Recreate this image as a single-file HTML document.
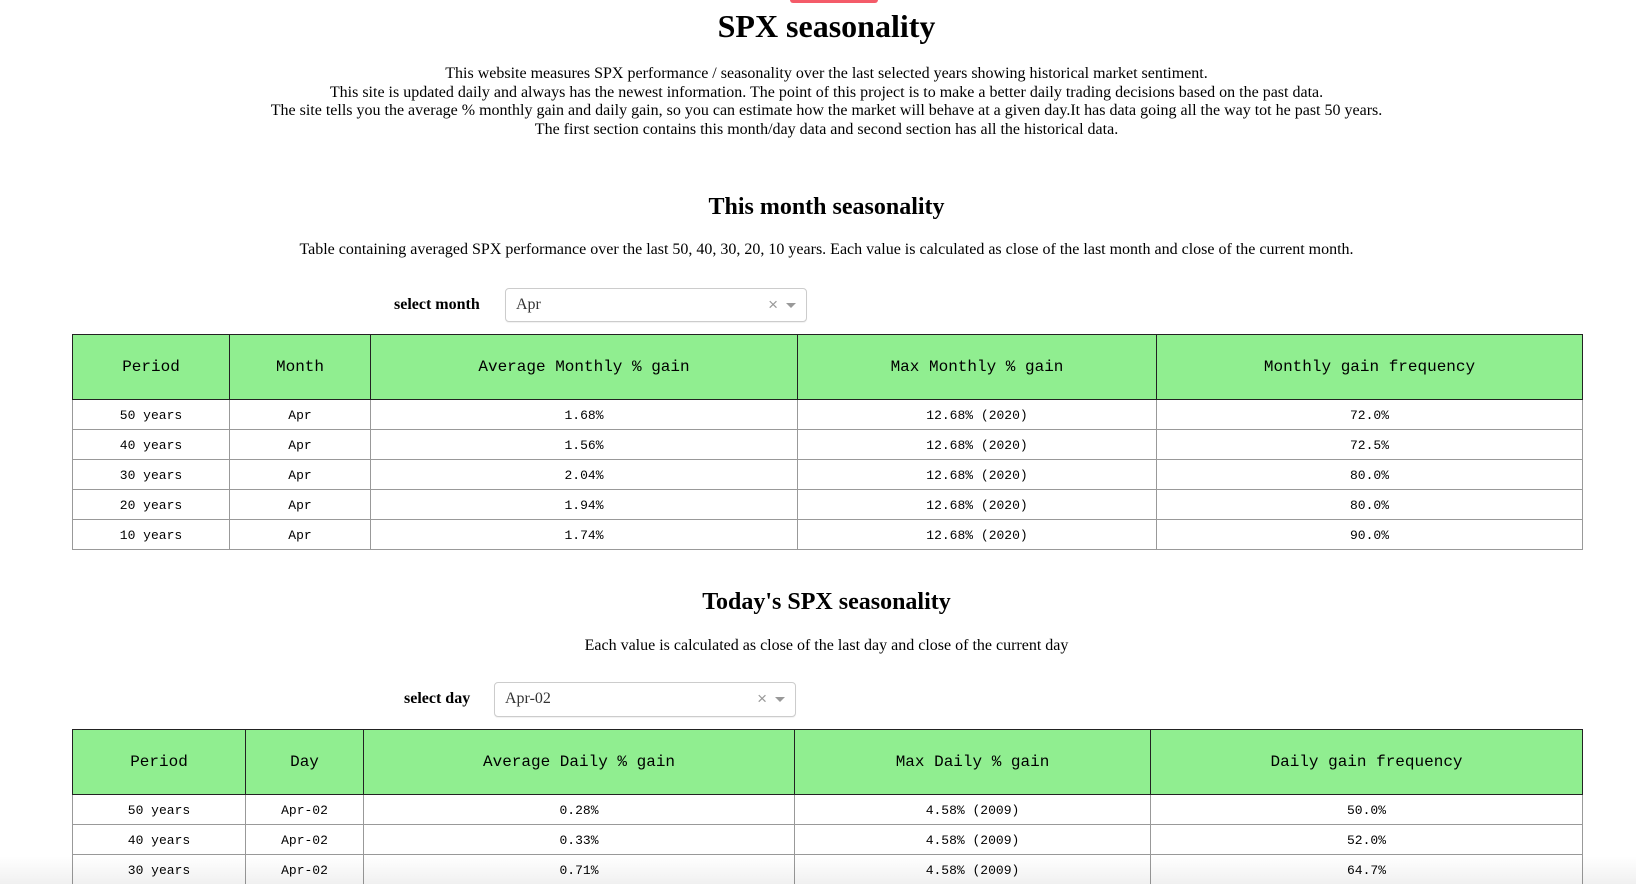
<!DOCTYPE html>
<html><head><meta charset="utf-8">
<style>
html,body{margin:0;padding:0;background:#fff;width:1636px;height:884px;overflow:hidden;}
body{font-family:"Liberation Serif",serif;color:#000;position:relative;}
.abs{position:absolute;}
.c{left:0;width:1653px;text-align:center;}
h1{margin:0;font-size:32px;font-weight:bold;}
h2{margin:0;font-size:24px;font-weight:bold;}
.p{font-size:16px;line-height:18.5px;}
.lbl{font-weight:bold;font-size:16px;}
.sel{border:1px solid #ccc;border-radius:4px;background:#fff;box-sizing:border-box;font-size:16px;color:#333;box-shadow:0 1px 1px rgba(0,0,0,.06);}
.sel .v{position:absolute;left:10px;top:7px;}
.sel .x{position:absolute;right:28px;top:6px;color:#999;font-family:"Liberation Sans",sans-serif;font-size:17px;}
.sel .ar{position:absolute;right:10px;top:14px;width:0;height:0;border-left:5px solid transparent;border-right:5px solid transparent;border-top:5px solid #999;}
table{border-collapse:collapse;table-layout:fixed;font-family:"Liberation Mono",monospace;}
th{background:#90ee90;border:1px solid #222;font-weight:normal;font-size:16px;height:65px;padding:0;box-sizing:border-box;}
td{border:1px solid #999;font-size:13px;height:30px;text-align:center;padding:2px 0 0 0;box-sizing:border-box;}
</style></head><body>
<div class="abs" style="left:790px;top:0;width:88px;height:3px;background:#f45b69;border-radius:0 0 4px 4px;"></div>
<div class="abs c" style="top:8px;"><h1>SPX seasonality</h1></div>
<div class="abs c p" style="top:65px;">This website measures SPX performance / seasonality over the last selected years showing historical market sentiment.<br>This site is updated daily and always has the newest information. The point of this project is to make a better daily trading decisions based on the past data.<br>The site tells you the average % monthly gain and daily gain, so you can estimate how the market will behave at a given day.It has data going all the way tot he past 50 years.<br>The first section contains this month/day data and second section has all the historical data.</div>
<div class="abs c" style="top:194px;"><h2>This month seasonality</h2></div>
<div class="abs c p" style="top:241px;">Table containing averaged SPX performance over the last 50, 40, 30, 20, 10 years. Each value is calculated as close of the last month and close of the current month.</div>
<div class="abs lbl" style="left:394px;top:296px;">select month</div>
<div class="abs sel" style="left:505px;top:288px;width:302px;height:34px;"><span class="v">Apr</span><span class="x">×</span><span class="ar"></span></div>
<table class="abs" style="left:72px;top:334px;width:1510px;">
<colgroup><col style="width:157px"><col style="width:141px"><col style="width:427px"><col style="width:359px"><col style="width:426px"></colgroup>
<tr><th>Period</th><th>Month</th><th>Average Monthly % gain</th><th>Max Monthly % gain</th><th>Monthly gain frequency</th></tr>
<tr><td>50 years</td><td>Apr</td><td>1.68%</td><td>12.68% (2020)</td><td>72.0%</td></tr>
<tr><td>40 years</td><td>Apr</td><td>1.56%</td><td>12.68% (2020)</td><td>72.5%</td></tr>
<tr><td>30 years</td><td>Apr</td><td>2.04%</td><td>12.68% (2020)</td><td>80.0%</td></tr>
<tr><td>20 years</td><td>Apr</td><td>1.94%</td><td>12.68% (2020)</td><td>80.0%</td></tr>
<tr><td>10 years</td><td>Apr</td><td>1.74%</td><td>12.68% (2020)</td><td>90.0%</td></tr>
</table>
<div class="abs c" style="top:589px;"><h2>Today's SPX seasonality</h2></div>
<div class="abs c p" style="top:637px;">Each value is calculated as close of the last day and close of the current day</div>
<div class="abs lbl" style="left:404px;top:690px;">select day</div>
<div class="abs sel" style="left:494px;top:682px;width:302px;height:35px;"><span class="v">Apr-02</span><span class="x">×</span><span class="ar"></span></div>
<table class="abs" style="left:72px;top:729px;width:1510px;">
<colgroup><col style="width:173px"><col style="width:118px"><col style="width:431px"><col style="width:356px"><col style="width:432px"></colgroup>
<tr><th>Period</th><th>Day</th><th>Average Daily % gain</th><th>Max Daily % gain</th><th>Daily gain frequency</th></tr>
<tr><td>50 years</td><td>Apr-02</td><td>0.28%</td><td>4.58% (2009)</td><td>50.0%</td></tr>
<tr><td>40 years</td><td>Apr-02</td><td>0.33%</td><td>4.58% (2009)</td><td>52.0%</td></tr>
<tr><td>30 years</td><td>Apr-02</td><td>0.71%</td><td>4.58% (2009)</td><td>64.7%</td></tr>
</table>
<div class="abs" style="left:0;top:856px;width:1636px;height:28px;background:linear-gradient(to bottom,rgba(0,0,0,0),rgba(0,0,0,0.06));"></div>
</body></html>
